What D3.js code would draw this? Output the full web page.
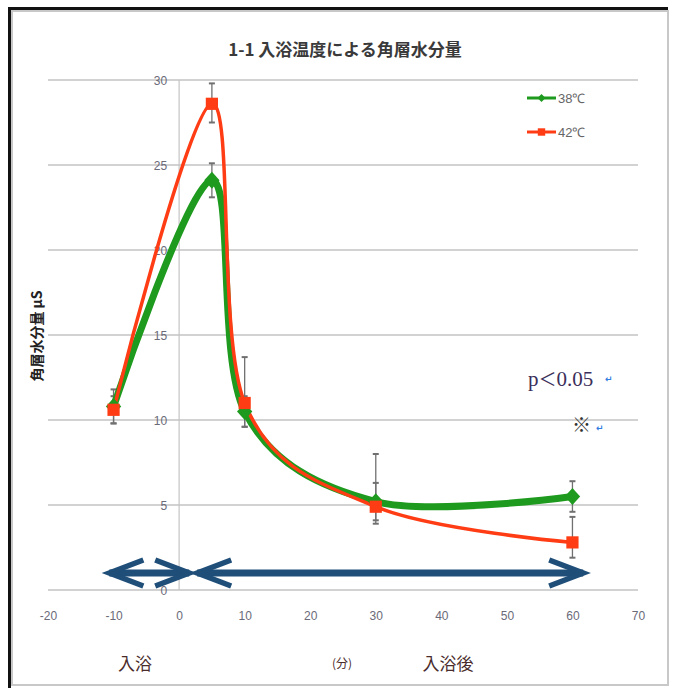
<!DOCTYPE html>
<html>
<head>
	<meta charset="utf-8">
	<title>1-1 入浴温度による角層水分量</title>
	<style type="text/css">
        body{
            padding:0;
            margin:0;
            overflow: hidden;
            background:#fff;
        }
	</style>
</head>
<body>

<div id='svg-chart'></div>

<script type="text/javascript" src='https://d3js.org/d3.v7.min.js'></script>
<script type="text/javascript">

    // minutes (before / after bath)
    var minutes = [-10, 5, 10, 30, 60];

    var temp38 = [10.8, 24.1, 10.5, 5.2, 5.5];
    var temp38Plus = [1.0, 1.0, 0.9, 1.1, 0.9];
    var temp38Minus = [1.0, 1.0, 0.9, 1.1, 0.9];

    var temp42 = [10.6, 28.6, 11.0, 4.9, 2.8];
    var temp42Plus = [0.8, 1.2, 2.7, 3.1, 1.5];
    var temp42Minus = [0.8, 1.1, 1.4, 1.0, 0.9];

    var seriesNames = ['38℃', '42℃'];
    var xTicks = [-20, -10, 0, 10, 20, 30, 40, 50, 60, 70];
    var yTicks = [0, 5, 10, 15, 20, 25, 30];

    // the two arrows under the curves (入浴 / 入浴後), in axis units
    var arrowSpans = [[-11.1, 2.0], [2.3, 62.1]];
    var arrowLevel = 1.0;

    var width = 675, height = 688;

    var xScale = d3.scaleLinear().domain([-20, 70]).range([48, 638]);
    var yScale = d3.scaleLinear().domain([0, 30]).range([590, 80]);

    var green = '#1e9a1e', red = '#ff3c14', navy = '#1f4e79';

    var svg = d3.select('#svg-chart')
        .append('svg')
        .attr('width', width)
        .attr('height', height);

/*-----------------------------------------------------------------------
    frame
-----------------------------------------------------------------------*/
    svg.append('rect')
        .attr('x', 12).attr('y', 11).attr('width', 656).attr('height', 674)
        .style('fill', 'none').style('stroke', '#c8c8c8').style('stroke-width', 2);
    svg.append('path')
        .attr('d', 'M9.5,688 V8.5 H668')
        .style('fill', 'none').style('stroke', '#111').style('stroke-width', 3);

/*-----------------------------------------------------------------------
    grid + axes
-----------------------------------------------------------------------*/
    svg.append('g')
        .selectAll('line')
        .data(yTicks)
        .enter()
        .append('line')
        .attr('x1', xScale(-20)).attr('x2', xScale(70))
        .attr('y1', d => yScale(d)).attr('y2', d => yScale(d))
        .style('stroke', '#d2d2d2').style('stroke-width', 2);

    // vertical axis at x = 0
    svg.append('line')
        .attr('x1', xScale(0)).attr('x2', xScale(0))
        .attr('y1', yScale(30)).attr('y2', yScale(0))
        .style('stroke', '#c4c4c4').style('stroke-width', 1.2);

    var yAxis = svg.append('g')
        .attr('transform', 'translate(' + (xScale(0) - 12) + ',0)')
        .call(d3.axisLeft(yScale).tickValues(yTicks).tickSize(0).tickPadding(0));

    // plain hyphen for negatives, like the original
    var xAxis = svg.append('g')
        .attr('transform', 'translate(0,' + (yScale(0) + 26) + ')')
        .call(d3.axisBottom(xScale).tickValues(xTicks).tickFormat(d => String(d)).tickSize(0).tickPadding(0));

    [yAxis, xAxis].forEach(function(ax){
        ax.select('.domain').remove();
        ax.selectAll('text')
            .style('font-family', '"Liberation Sans Narrow", "Liberation Sans", sans-serif')
            .style('font-size', '12px')
            .style('fill', '#6a6a78');
    });
    yAxis.selectAll('text').attr('dy', '0.35em');
    xAxis.selectAll('text').attr('dy', '0.35em');

/*-----------------------------------------------------------------------
    arrows
-----------------------------------------------------------------------*/
    var arrows = svg.append('g')
        .style('stroke', navy).style('fill', 'none')
        .style('stroke-linecap', 'butt').style('stroke-linejoin', 'miter');

    arrowSpans.forEach(function(span){
        var x0 = xScale(span[0]), x1 = xScale(span[1]), y = yScale(arrowLevel);
        var headLen = 37, headHalf = 13;
        arrows.append('line')
            .attr('x1', x0 + 3).attr('x2', x1 - 3).attr('y1', y).attr('y2', y)
            .style('stroke-width', 7);
        arrows.append('path')
            .attr('d', 'M' + (x0 + headLen) + ',' + (y - headHalf) + ' L' + (x0 + 3) + ',' + y + ' L' + (x0 + headLen) + ',' + (y + headHalf))
            .style('stroke-width', 5.5);
        arrows.append('path')
            .attr('d', 'M' + (x1 - headLen) + ',' + (y - headHalf) + ' L' + (x1 - 3) + ',' + y + ' L' + (x1 - headLen) + ',' + (y + headHalf))
            .style('stroke-width', 5.5);
    });

/*-----------------------------------------------------------------------
    error bars
-----------------------------------------------------------------------*/
    var errData = [];
    minutes.forEach(function(m, i){
        errData.push({x: m, hi: temp38[i] + temp38Plus[i], lo: temp38[i] - temp38Minus[i]});
        errData.push({x: m, hi: temp42[i] + temp42Plus[i], lo: temp42[i] - temp42Minus[i]});
    });

    var err = svg.append('g').style('stroke', '#707070').style('stroke-width', 1.3);
    err.selectAll('line.bar')
        .data(errData)
        .enter()
        .append('line').attr('class', 'bar')
        .attr('x1', d => xScale(d.x)).attr('x2', d => xScale(d.x))
        .attr('y1', d => yScale(d.hi)).attr('y2', d => yScale(d.lo));
    ['hi', 'lo'].forEach(function(k){
        err.selectAll('line.cap-' + k)
            .data(errData)
            .enter()
            .append('line').attr('class', 'cap-' + k)
            .attr('x1', d => xScale(d.x) - 3).attr('x2', d => xScale(d.x) + 3)
            .attr('y1', d => yScale(d[k])).attr('y2', d => yScale(d[k]))
            .style('stroke-width', 2);
    });

/*-----------------------------------------------------------------------
    smoothed lines + markers
-----------------------------------------------------------------------*/
    var line = d3.line()
        .x(d => xScale(d[0]))
        .y(d => yScale(d[1]))
        .curve(d3.curveCardinal.tension(0));

    var pts38 = minutes.map((m, i) => [m, temp38[i]]);
    var pts42 = minutes.map((m, i) => [m, temp42[i]]);

    svg.append('path').datum(pts38).attr('d', line)
        .style('fill', 'none').style('stroke', green).style('stroke-width', 7);
    svg.append('path').datum(pts42).attr('d', line)
        .style('fill', 'none').style('stroke', red).style('stroke-width', 3.5);

    var diamond = d3.symbol().type(d3.symbolDiamond2).size(150);
    var square = d3.symbol().type(d3.symbolSquare2).size(190);

    svg.append('g').selectAll('path')
        .data(pts38).enter().append('path')
        .attr('d', diamond)
        .attr('transform', d => 'translate(' + xScale(d[0]) + ',' + yScale(d[1]) + ') scale(1,1.1)')
        .style('fill', green);
    svg.append('g').selectAll('path')
        .data(pts42).enter().append('path')
        .attr('d', square)
        .attr('transform', d => 'translate(' + xScale(d[0]) + ',' + yScale(d[1]) + ')')
        .style('fill', red);

/*-----------------------------------------------------------------------
    legend
-----------------------------------------------------------------------*/
    var legend = svg.append('g').attr('transform', 'translate(527,98)');
    [green, red].forEach(function(c, i){
        var g = legend.append('g').attr('transform', 'translate(0,' + (i * 34) + ')');
        g.append('line').attr('x1', 0).attr('x2', 29).attr('y1', 0).attr('y2', 0)
            .style('stroke', c).style('stroke-width', 3);
        g.append('path')
            .attr('d', i == 0 ? d3.symbol().type(d3.symbolDiamond2).size(40) : d3.symbol().type(d3.symbolSquare2).size(70))
            .attr('transform', 'translate(14.5,0)')
            .style('fill', c);
        g.append('text').attr('x', 31).attr('y', 0).attr('dy', '0.35em')
            .text(seriesNames[i])
            .style('font-family', '"Liberation Sans Narrow", "Liberation Sans", sans-serif')
            .style('font-size', '13px').style('fill', '#666');
    });

/*-----------------------------------------------------------------------
    texts
-----------------------------------------------------------------------*/
    svg.append('text')
        .attr('x', 345).attr('y', 56)
        .attr('text-anchor', 'middle')
        .text('1-1 入浴温度による角層水分量')
        .style('font-family', '"Noto Sans CJK JP", sans-serif')
        .style('font-size', '17px').style('font-weight', 'bold').style('fill', '#3a3a3a');

    svg.append('text')
        .attr('transform', 'translate(42,336) rotate(-90)')
        .attr('text-anchor', 'middle')
        .text('角層水分量 μS')
        .style('font-family', '"Noto Sans CJK JP", sans-serif')
        .style('font-size', '14px').style('font-weight', 'bold').style('fill', '#222');

    var serif = '"Liberation Serif", "DejaVu Serif", serif';
    var pText = svg.append('text').attr('x', 528).attr('y', 386)
        .style('font-family', serif).style('font-size', '21px').style('fill', '#3b2f5a');
    pText.append('tspan').text('p');
    pText.append('tspan').text('＜').style('font-family', '"Noto Sans CJK JP", sans-serif').style('font-size', '18px');
    pText.append('tspan').text('0.05');
    svg.append('text').attr('x', 572).attr('y', 432)
        .text('※')
        .style('font-family', '"Noto Sans CJK JP", sans-serif').style('font-size', '19px').style('fill', '#333');
    [[605, 382], [596, 431]].forEach(function(p){
        svg.append('text').attr('x', p[0]).attr('y', p[1])
            .text('↵')
            .style('font-family', '"DejaVu Sans", sans-serif').style('font-size', '9px')
            .style('font-weight', 'bold').style('fill', '#2f7de1');
    });

    var jp = '"Noto Sans CJK JP", sans-serif';
    svg.append('text').attr('x', 135).attr('y', 670).attr('text-anchor', 'middle')
        .text('入浴')
        .style('font-family', jp).style('font-size', '17px').style('fill', '#4a2c2c');
    svg.append('text').attr('x', 342).attr('y', 668).attr('text-anchor', 'middle')
        .text('(分)')
        .style('font-family', jp).style('font-size', '12px').style('fill', '#4a2c2c');
    svg.append('text').attr('x', 448).attr('y', 670).attr('text-anchor', 'middle')
        .text('入浴後')
        .style('font-family', jp).style('font-size', '17px').style('fill', '#4a2c2c');

</script>

</body>
</html>
